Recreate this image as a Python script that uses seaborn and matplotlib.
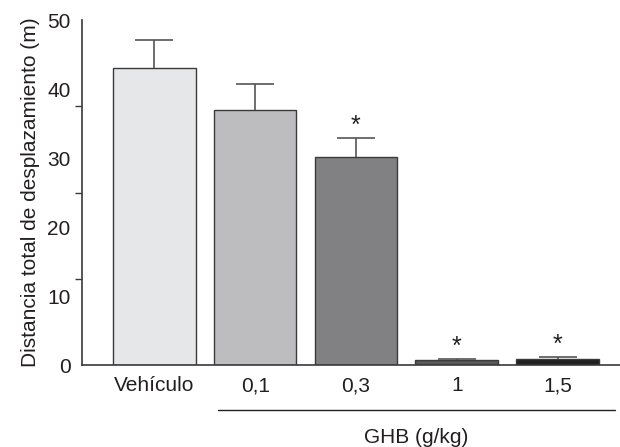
import numpy as np
import matplotlib
matplotlib.use("Agg")
import matplotlib.pyplot as plt
import matplotlib.transforms as mtransforms
import seaborn as sns

# Data
dosis = ["Vehículo", "0,1", "0,3", "1", "1,5"]
media = [43.0, 37.0, 30.2, 0.7, 0.9]
error = [4.1, 3.8, 2.7, 0.15, 0.2]
signif = [False, False, True, True, True]
colores = ["#e6e7e9", "#bcbdc1", "#808184", "#58595b", "#231f20"]

sns.set_style("white")
plt.rcParams['font.family'] = ['Liberation Sans', 'DejaVu Sans']
txt = "#231f20"
linea = "#3a3a3a"

fig = plt.figure(figsize=(6.2, 4.47), dpi=100)
ax = fig.add_axes([0.132, 0.1834, 0.868, 0.7716])

sns.barplot(x=dosis, y=media, hue=dosis, palette=colores, width=0.82,
            edgecolor=linea, linewidth=1.0, errorbar=None, legend=False, ax=ax)

xs = np.arange(len(dosis))
eb = ax.errorbar(xs, media, yerr=[np.zeros(len(error)), error], fmt="none",
                 ecolor="#555555", elinewidth=1.2, capsize=14, capthick=1.2)
# only the upper cap
eb[1][0].set_visible(False)

# significance marks
for x, m, e, s in zip(xs, media, error, signif):
    if s:
        ax.annotate("*", (x, m + e), xytext=(0, 9), textcoords="offset points",
                    ha="center", va="center", fontsize=18, color=txt)

ax.set_xlim(-0.72, 4.62)
ax.set_ylim(0, 50)
ax.set_yticks([0, 10, 20, 30, 40, 50])
ax.set_yticks([12.5, 25, 37.5], minor=True)
ax.tick_params(axis="y", which="major", length=5, width=1.0, color=linea,
               labelsize=15, labelcolor=txt, pad=3)
ax.tick_params(axis="y", which="minor", length=5, width=1.0, color=linea, left=True)
ax.tick_params(axis="x", length=0, labelsize=15, labelcolor=txt, pad=8)
ax.set_ylabel("Distancia total de desplazamiento (m)", fontsize=15, color=txt, labelpad=5)

sns.despine(ax=ax, top=True, right=True)
for sp in ["left", "bottom"]:
    ax.spines[sp].set_color(linea)
    ax.spines[sp].set_linewidth(1.2)

# GHB group line below the dose labels
trans = mtransforms.blended_transform_factory(ax.transData, ax.transAxes)
ax.plot([0.63, 4.57], [-0.13, -0.13], transform=trans, color=txt,
        linewidth=1.0, clip_on=False)
ax.text(2.6, -0.21, "GHB (g/kg)", transform=trans, ha="center", va="center",
        fontsize=15, color=txt)

fig.savefig("out.png", dpi=100)
